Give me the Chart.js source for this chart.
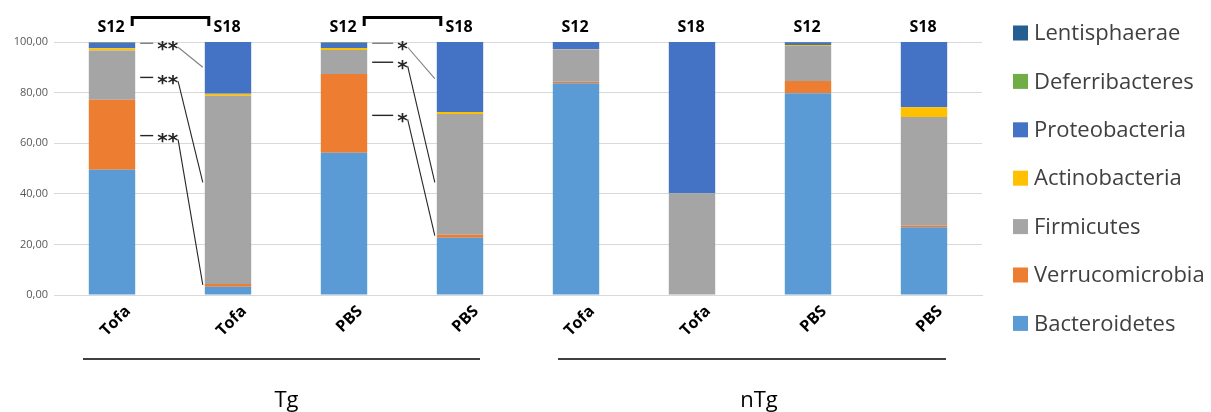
<!DOCTYPE html>
<html>
<head>
<meta charset="utf-8">
<script src="https://cdn.jsdelivr.net/npm/chart.js@4/dist/chart.umd.min.js"></script>
<style>
  html, body { margin: 0; padding: 0; background: #ffffff; }
  #wrap { width: 1211px; height: 412px; position: relative; }
</style>
</head>
<body>
<div id="wrap"><canvas id="c" width="1211" height="412"></canvas></div>
<script>
// ---- data ----
const categories = ['Tofa', 'Tofa', 'PBS', 'PBS', 'Tofa', 'Tofa', 'PBS', 'PBS'];
const timepoints = ['S12', 'S18', 'S12', 'S18', 'S12', 'S18', 'S12', 'S18'];
const groupNames = ['Tg', 'nTg'];
const yTickValues = [0, 20, 40, 60, 80, 100];

const bacteroidetes   = [49.5, 3.3, 56.2, 22.6, 83.7, 0.0, 79.7, 26.8];
const verrucomicrobia = [27.7, 1.0, 31.2, 1.2, 0.6, 0.0, 4.9, 0.7];
const firmicutes      = [19.4, 74.5, 9.4, 47.7, 12.8, 40.2, 13.8, 42.9];
const actinobacteria  = [0.9, 0.7, 0.8, 0.8, 0.1, 0.0, 0.4, 3.8];
const proteobacteria  = [2.2, 20.5, 2.0, 27.7, 2.8, 59.8, 1.1, 25.8];
const deferribacteres = [0.3, 0.0, 0.2, 0.0, 0.0, 0.0, 0.0, 0.0];
const lentisphaerae   = [0.0, 0.0, 0.2, 0.0, 0.0, 0.0, 0.1, 0.0];

// significance annotations: S12 bar -> S18 bar, [row value, target value]
const sigTofa = { from: 0, to: 1, text: '**', dash: 13, rows: [[99.5, 90], [86, 44.5], [63, 4]] };
const sigPBS  = { from: 2, to: 3, text: '*',  dash: 21, rows: [[99.5, 85.5], [92, 44.5], [71, 23.5]] };
const groupSpans = [[0, 3], [4, 7]];

// ---- styles ----
const colors = {
  Bacteroidetes: '#5B9BD5', Verrucomicrobia: '#ED7D31', Firmicutes: '#A5A5A5',
  Actinobacteria: '#FFC000', Proteobacteria: '#4472C4', Deferribacteres: '#70AD47',
  Lentisphaerae: '#255E91'
};
const seriesList = [
  ['Bacteroidetes', bacteroidetes], ['Verrucomicrobia', verrucomicrobia],
  ['Firmicutes', firmicutes], ['Actinobacteria', actinobacteria],
  ['Proteobacteria', proteobacteria], ['Deferribacteres', deferribacteres],
  ['Lentisphaerae', lentisphaerae]
];

const annot = {
  id: 'annot',
  afterDraw(chart) {
    const ctx = chart.ctx;
    const xs = chart.scales.x, ys = chart.scales.y;
    const top = chart.chartArea.top;
    const meta = chart.getDatasetMeta(0);
    ctx.save();
    // S labels
    ctx.fillStyle = '#000';
    ctx.font = 'bold 16px "Open Sans"';
    ctx.textAlign = 'center';
    ctx.textBaseline = 'middle';
    timepoints.forEach((t, i) => ctx.fillText(t, xs.getPixelForValue(i) - 1, top - 15));

    // brackets + significance marks
    [sigTofa, sigPBS].forEach(g => {
      const b0 = meta.data[g.from], b1 = meta.data[g.to];
      const r0 = b0.x + b0.width / 2, l1 = b1.x - b1.width / 2;
      ctx.strokeStyle = '#000';
      ctx.lineWidth = 3;
      ctx.beginPath();
      ctx.moveTo(r0 - 3, top - 16);
      ctx.lineTo(r0 - 3, top - 24.5);
      ctx.lineTo(l1 + 4, top - 24.5);
      ctx.lineTo(l1 + 4, top - 16);
      ctx.stroke();

      g.rows.forEach((r, k) => {
        const yRow = ys.getPixelForValue(r[0]);
        const yT = ys.getPixelForValue(r[1]);
        const dx0 = r0 + 5;
        ctx.strokeStyle = k === 0 ? '#7f7f7f' : '#262626';
        ctx.lineWidth = 1.4;
        ctx.beginPath();
        ctx.moveTo(dx0, yRow);
        ctx.lineTo(dx0 + g.dash, yRow);
        ctx.stroke();
        ctx.font = 'bold 20px "DejaVu Sans"';
        ctx.textAlign = 'left';
        ctx.textBaseline = 'alphabetic';
        ctx.fillStyle = '#262626';
        const tx = dx0 + g.dash + 4;
        ctx.fillText(g.text, tx, yRow + 11.5);
        const tw = ctx.measureText(g.text).width;
        ctx.strokeStyle = k === 0 ? '#7f7f7f' : '#262626';
        ctx.lineWidth = 1.1;
        ctx.beginPath();
        ctx.moveTo(tx + tw, yRow + 4);
        ctx.lineTo(l1 - 2, yT);
        ctx.stroke();
      });
    });

    // group lines + labels
    groupSpans.forEach((s, gi) => {
      const b0 = meta.data[s[0]], b1 = meta.data[s[1]];
      const xa = b0.x - (gi === 0 ? 29 : 18);
      const xb = b1.x + (gi === 0 ? 20 : 22);
      ctx.strokeStyle = '#000';
      ctx.lineWidth = 1.5;
      ctx.beginPath();
      ctx.moveTo(xa, 359);
      ctx.lineTo(xb, 359);
      ctx.stroke();
      ctx.fillStyle = '#000';
      ctx.font = '22px "Open Sans"';
      ctx.textAlign = 'center';
      ctx.textBaseline = 'alphabetic';
      ctx.fillText(groupNames[gi], (xa + xb) / 2 + (gi === 0 ? 5 : 7), 407);
    });

    // legend (reversed)
    const ds = chart.data.datasets.slice().reverse();
    ds.forEach((d, i) => {
      const cy = 33 + i * 48.4;
      ctx.fillStyle = d.backgroundColor;
      ctx.fillRect(1013, cy - 7.5, 15, 15);
      ctx.fillStyle = '#404040';
      ctx.font = '22px "Open Sans"';
      ctx.textAlign = 'left';
      ctx.textBaseline = 'middle';
      ctx.fillText(d.label, 1034, cy + 1);
    });
    ctx.restore();
  }
};

new Chart(document.getElementById('c'), {
  type: 'bar',
  data: {
    labels: categories,
    datasets: seriesList.map(([name, vals]) => ({
      label: name,
      data: vals,
      backgroundColor: colors[name],
      borderWidth: 0,
      barPercentage: 0.4,
      categoryPercentage: 1.0
    }))
  },
  options: {
    responsive: false,
    devicePixelRatio: 1,
    animation: false,
    layout: { padding: { top: 42, right: 229, left: 0, bottom: 0 } },
    plugins: { legend: { display: false }, tooltip: { enabled: false } },
    scales: {
      x: {
        stacked: true,
        grid: { display: false, drawTicks: false },
        border: { display: true, color: '#d9d9d9', width: 1 },
        ticks: {
          color: '#000',
          font: { family: 'Open Sans', weight: 'bold', size: 16 },
          maxRotation: 45, minRotation: 45,
          labelOffset: 16, padding: 7, autoSkip: false
        },
        afterFit(scale) { scale.height = 117; }
      },
      y: {
        stacked: true,
        min: 0, max: 100,
        afterBuildTicks(scale) { scale.ticks = yTickValues.map(v => ({ value: v })); },
        grid: { color: '#d9d9d9', drawTicks: false },
        border: { display: false },
        ticks: {
          color: '#595959',
          font: { family: 'Open Sans', size: 11 },
          padding: 6,
          callback: v => Number(v).toFixed(2).replace('.', ',')
        },
        afterFit(scale) { scale.width = 54; }
      }
    }
  },
  plugins: [annot]
});
</script>
</body>
</html>
